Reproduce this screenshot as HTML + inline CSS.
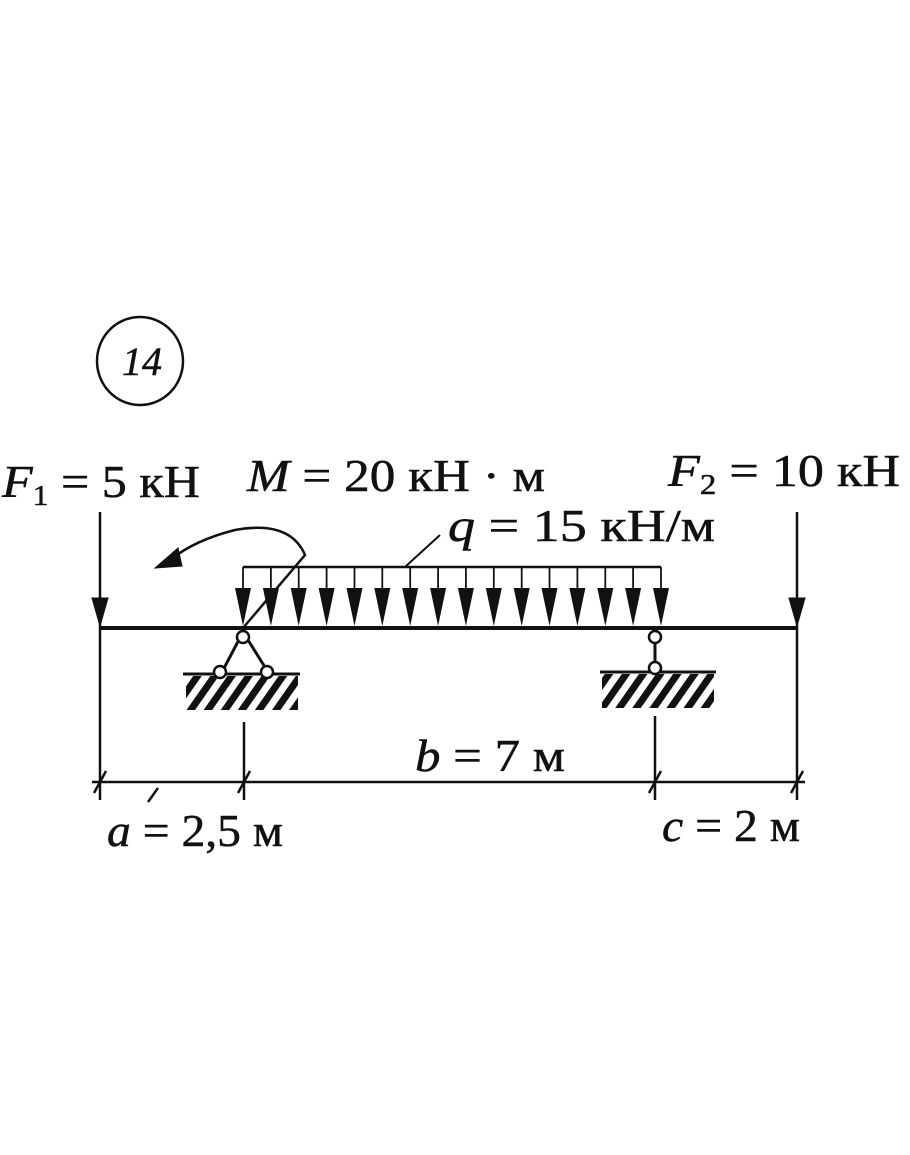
<!DOCTYPE html>
<html><head><meta charset="utf-8"><style>
html,body{margin:0;padding:0;background:#fff;}
svg{display:block;}
text{font-family:"Liberation Serif",serif;fill:#111;stroke:#111;stroke-width:0.5;}
</style></head><body>
<svg width="910" height="1155" viewBox="0 0 910 1155" xmlns="http://www.w3.org/2000/svg">
<defs>
<pattern id="hatch" patternUnits="userSpaceOnUse" width="14" height="14" patternTransform="rotate(35)"><rect width="7" height="14" fill="#111"/></pattern>
</defs>
<g stroke="#111" fill="none">
<ellipse cx="140" cy="361" rx="43" ry="44" stroke-width="2.5"/>
<line x1="100" y1="628" x2="797" y2="628" stroke-width="4"/>
<line x1="100" y1="512" x2="100" y2="800" stroke-width="2.5"/>
<path d="M92,598 L108,598 L100,626 z" fill="#111"/>
<line x1="797" y1="512" x2="797" y2="800" stroke-width="2.5"/>
<path d="M789,598 L805,598 L797,626 z" fill="#111"/>
<line x1="243" y1="567" x2="661" y2="567" stroke-width="2.5"/>
<g stroke-width="1.8">
<line x1="243.0" y1="567" x2="243.0" y2="600"/><line x1="270.9" y1="567" x2="270.9" y2="600"/><line x1="298.7" y1="567" x2="298.7" y2="600"/><line x1="326.6" y1="567" x2="326.6" y2="600"/><line x1="354.5" y1="567" x2="354.5" y2="600"/><line x1="382.3" y1="567" x2="382.3" y2="600"/><line x1="410.2" y1="567" x2="410.2" y2="600"/><line x1="438.1" y1="567" x2="438.1" y2="600"/><line x1="465.9" y1="567" x2="465.9" y2="600"/><line x1="493.8" y1="567" x2="493.8" y2="600"/><line x1="521.7" y1="567" x2="521.7" y2="600"/><line x1="549.5" y1="567" x2="549.5" y2="600"/><line x1="577.4" y1="567" x2="577.4" y2="600"/><line x1="605.3" y1="567" x2="605.3" y2="600"/><line x1="633.1" y1="567" x2="633.1" y2="600"/><line x1="661.0" y1="567" x2="661.0" y2="600"/>
</g>
<g fill="#111" stroke="none">
<path d="M235,588 L251,588 L243,626z"/><path d="M262.9,588 L278.9,588 L270.9,626z"/><path d="M290.7,588 L306.7,588 L298.7,626z"/><path d="M318.6,588 L334.6,588 L326.6,626z"/><path d="M346.5,588 L362.5,588 L354.5,626z"/><path d="M374.3,588 L390.3,588 L382.3,626z"/><path d="M402.2,588 L418.2,588 L410.2,626z"/><path d="M430.1,588 L446.1,588 L438.1,626z"/><path d="M457.9,588 L473.9,588 L465.9,626z"/><path d="M485.8,588 L501.8,588 L493.8,626z"/><path d="M513.7,588 L529.7,588 L521.7,626z"/><path d="M541.5,588 L557.5,588 L549.5,626z"/><path d="M569.4,588 L585.4,588 L577.4,626z"/><path d="M597.3,588 L613.3,588 L605.3,626z"/><path d="M625.1,588 L641.1,588 L633.1,626z"/><path d="M653,588 L669,588 L661,626z"/>
</g>
<line x1="405" y1="567" x2="440" y2="535" stroke-width="2"/>
<path d="M243,628 L305,555 Q290,520 235,530 Q195,540 170,560" stroke-width="2.5"/>
<path d="M155,568 L178,548 L182,566 z" fill="#111"/>
<line x1="243" y1="632" x2="222" y2="672" stroke-width="3"/>
<line x1="243" y1="632" x2="268" y2="672" stroke-width="3"/>
<line x1="183" y1="674" x2="300" y2="674" stroke-width="3"/>
<rect x="186" y="676" width="112" height="34" fill="url(#hatch)" stroke="none"/>
<circle cx="243" cy="637" r="6" fill="#fff" stroke-width="2.5"/>
<circle cx="220" cy="672" r="6" fill="#fff" stroke-width="2.5"/>
<circle cx="267" cy="672" r="6" fill="#fff" stroke-width="2.5"/>
<line x1="655" y1="640" x2="655" y2="668" stroke-width="3"/>
<line x1="600" y1="672" x2="716" y2="672" stroke-width="3"/>
<rect x="602" y="674" width="112" height="34" fill="url(#hatch)" stroke="none"/>
<circle cx="655" cy="637" r="6" fill="#fff" stroke-width="2.5"/>
<circle cx="655" cy="668" r="6" fill="#fff" stroke-width="2.5"/>
<line x1="244" y1="722" x2="244" y2="800" stroke-width="2.5"/>
<line x1="655" y1="716" x2="655" y2="800" stroke-width="2.5"/>
<line x1="92" y1="782" x2="805" y2="782" stroke-width="2.5"/>
<g stroke-width="2.5">
<line x1="94" y1="793" x2="106" y2="771"/><line x1="238" y1="793" x2="250" y2="771"/><line x1="649" y1="793" x2="661" y2="771"/><line x1="791" y1="793" x2="803" y2="771"/>
</g>
<line x1="148" y1="802" x2="158" y2="788" stroke-width="2.5"/>
</g>
<text x="122" y="375" font-size="40" font-style="italic">14</text>
<text x="2" y="497" font-size="46" textLength="198" lengthAdjust="spacingAndGlyphs"><tspan font-style="italic">F</tspan><tspan font-size="29" dy="8">1</tspan><tspan dy="-8"> = 5 кН</tspan></text>
<text x="247" y="491" font-size="46" textLength="298" lengthAdjust="spacingAndGlyphs"><tspan font-style="italic">M</tspan> = 20 кН · м</text>
<text x="668" y="486" font-size="46" textLength="232" lengthAdjust="spacingAndGlyphs"><tspan font-style="italic">F</tspan><tspan font-size="29" dy="8">2</tspan><tspan dy="-8"> = 10 кН</tspan></text>
<text x="448" y="541" font-size="46" textLength="267" lengthAdjust="spacingAndGlyphs"><tspan font-style="italic">q</tspan> = 15 кН/м</text>
<text x="415" y="771" font-size="46" textLength="150" lengthAdjust="spacingAndGlyphs"><tspan font-style="italic">b</tspan> = 7 м</text>
<text x="107" y="846" font-size="46" textLength="176" lengthAdjust="spacingAndGlyphs"><tspan font-style="italic">a</tspan> = 2,5 м</text>
<text x="662" y="841" font-size="46" textLength="138" lengthAdjust="spacingAndGlyphs"><tspan font-style="italic">c</tspan> = 2 м</text>
</svg>
</body></html>
